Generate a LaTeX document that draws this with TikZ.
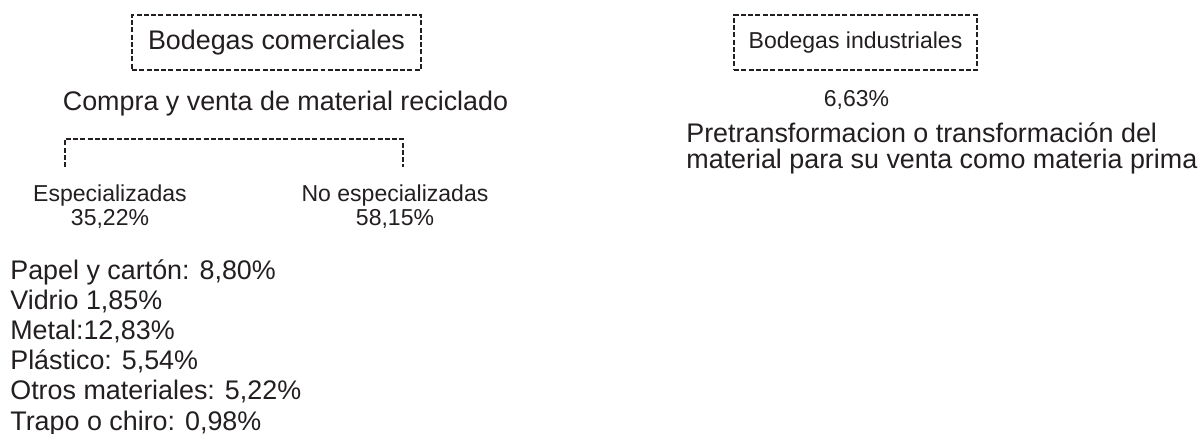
\documentclass[tikz,border=0pt]{standalone}
\usepackage{fontspec}
\setmainfont{Liberation Sans}
\usetikzlibrary{calc,positioning}
\definecolor{ink}{RGB}{35,31,32}

\begin{document}
\begin{tikzpicture}[x=0.02cm, y=-0.02cm,
                    font={\fontsize{15.3pt}{14.5pt}\selectfont},
                    catbox/.style ={rectangle, draw=ink, line width=0.055cm, dash pattern=on 0.1cm off 0.045cm,
                                    text=ink, inner sep=0, minimum height=1.1cm},
                    txt/.style    ={inner sep=0, text=ink, align=center},
                    small/.style  ={font={\fontsize{13.1pt}{13.1pt}\selectfont}},
                    para/.style   ={inner sep=0, text=ink, align=left},
                    bracket/.style={-, draw=ink, line width=0.055cm, dash pattern=on 0.1cm off 0.045cm}]

      \useasboundingbox[fill=white] (0,0) rectangle (1203,433);

      % left branch
      \node[catbox, minimum width=5.78cm] at(276.5, 42.5)              (comerc)  {Bodegas comerciales};
      \node[txt, anchor=base]  at($(comerc.center)+(9, 67.5)$)          (compra)  {Compra y venta de material reciclado};
      \coordinate (bl) at(65, 167);
      \coordinate (br) at(403, 167);
      \path[bracket] (bl) -- ++(0,-28) -| (br);
      \node[txt, small, anchor=base]  at($(bl)+(45, 58)$)               (espec)   {Especializadas\\35,22\%};
      \node[txt, small, anchor=base]  at($(br)+(-8, 58)$)               (noespec) {No especializadas\\58,15\%};
      \node[para, font={\fontsize{15.3pt}{17.1pt}\selectfont}, anchor=base west] at(10, 430) (mat)
            {Papel y cartón: 8,80\%\\Vidrio 1,85\%\\Metal:12,83\%\\Plástico: 5,54\%\\Otros materiales: 5,22\%\\Trapo o chiro: 0,98\%};

      % right branch
      \node[catbox, small, minimum width=4.86cm] at(855.5, 42.5)       (indus)   {Bodegas industriales};
      \node[txt, small, anchor=base]  at($(indus.center)+(1, 64)$)      (pct)     {6,63\%};
      \node[para, anchor=base west] at(686, 168)                        (transf)  {Pretransformacion o transformación del\\material para su venta como materia prima};
    \end{tikzpicture}
\end{document}
